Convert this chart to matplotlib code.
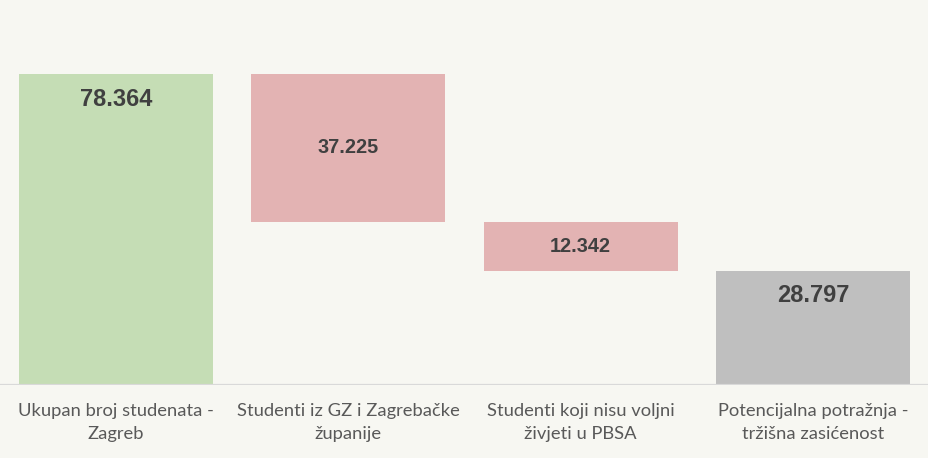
import matplotlib
matplotlib.use("Agg")
from matplotlib import pyplot as plt

# waterfall data
categories = ["Ukupan broj studenata -\nZagreb",
              "Studenti iz GZ i Zagrebačke\nžupanije",
              "Studenti koji nisu voljni\nživjeti u PBSA",
              "Potencijalna potražnja -\ntržišna zasićenost"]
values = [78364, -37225, -12342, 28797]
labels = ["78.364", "37.225", "12.342", "28.797"]
colors = ["#c5ddb5", "#e3b3b3", "#e3b3b3", "#bfbfbf"]

bg = "#f7f7f2"
fig = plt.figure(figsize=(9.29, 4.58), dpi=100, facecolor=bg)
ax = fig.add_axes([0, 73 / 458, 1, 357 / 458], facecolor=bg)

# bottoms / heights for floating bars
bottoms = []
heights = []
running = 0
for i, v in enumerate(values):
    if i == 0 or i == len(values) - 1:
        bottoms.append(0)
        heights.append(abs(v))
        running = abs(v)
    else:
        running = running + v
        bottoms.append(running)
        heights.append(-v)

x = list(range(len(values)))
ax.bar(x, heights, bottom=bottoms, width=0.836, color=colors, zorder=2)

for i in x:
    top = bottoms[i] + heights[i]
    if i in (0, len(values) - 1):
        # total bars: label inside end
        ax.annotate(labels[i], (i, top), xytext=(0, -25), textcoords="offset pixels",
                    ha="center", va="center", fontsize=17, fontweight="bold",
                    color="#404040", family="Liberation Sans", zorder=3)
    else:
        ax.text(i, bottoms[i] + heights[i] / 2, labels[i], ha="center", va="center",
                fontsize=14.3, fontweight="bold", color="#404040",
                family="Liberation Sans", zorder=3)
    ax.annotate(categories[i], (i, 0), xytext=(0, -18), textcoords="offset pixels",
                ha="center", va="top", fontsize=13.2, color="#595959",
                family="Lato", linespacing=1.55, annotation_clip=False)

ax.axhline(0, color="#d9d9d9", lw=1.6, zorder=3)
ax.set_xlim(-0.5, 3.5)
ax.set_ylim(0, 90000)
ax.set_xticks([])
ax.set_yticks([])
for s in ax.spines.values():
    s.set_visible(False)

fig.savefig("out.png", dpi=100, facecolor=bg)
